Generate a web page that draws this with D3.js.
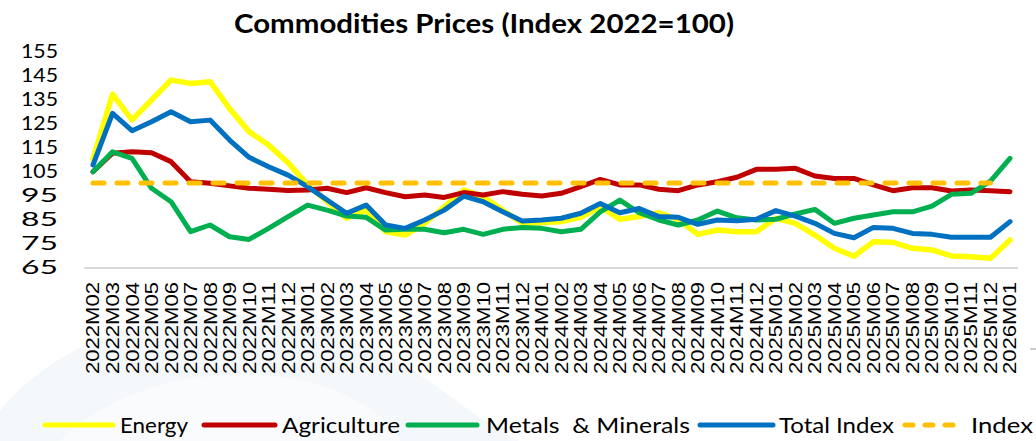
<!DOCTYPE html>
<html>
<head>
<meta charset="utf-8">
<script src="https://cdn.jsdelivr.net/npm/d3@7"></script>
<style>
  body { margin: 0; background: #fff; overflow: hidden; }
  svg { display: block; }
</style>
</head>
<body>
<script>
// months on the x axis
const months = [
  '2022M02','2022M03','2022M04','2022M05','2022M06','2022M07','2022M08','2022M09','2022M10','2022M11','2022M12',
  '2023M01','2023M02','2023M03','2023M04','2023M05','2023M06','2023M07','2023M08','2023M09','2023M10','2023M11','2023M12',
  '2024M01','2024M02','2024M03','2024M04','2024M05','2024M06','2024M07','2024M08','2024M09','2024M10','2024M11','2024M12',
  '2025M01','2025M02','2025M03','2025M04','2025M05','2025M06','2025M07','2025M08','2025M09','2025M10','2025M11','2025M12',
  '2026M01'
]

const energy = [110, 137, 126.3, 134.6, 142.9, 141.5, 142.2, 131, 121.4, 115.8, 108.5,
  99.2, 92.2, 85.3, 88.7, 79.7, 78.3, 83.2, 90.1, 97.1, 94.3, 88.7, 83.2,
  83.5, 83.9, 85.7, 90.1, 84.9, 86, 87.6, 84.9, 78.6, 80.4, 79.7, 79.7,
  85.3, 83.2, 78.3, 72.8, 69.5, 75.5, 75.3, 72.8, 72.1, 69.6, 69.3, 68.6,
  76.3]

const agriculture = [104.7, 112.4, 113, 112.6, 108.9, 100.5, 99.9, 98.8, 97.8, 97.4, 96.9,
  97.1, 97.8, 96, 98, 96, 94.3, 95, 94, 96, 95, 96.4, 95.3,
  94.6, 95.7, 98.5, 101.5, 99.2, 99.2, 97.4, 96.8, 99.2, 100.5, 102.4, 105.7,
  105.7, 106.1, 102.9, 101.9, 101.9, 99.2, 96.8, 98, 98, 96.7, 97.1, 96.8,
  96.4]

const metals = [104.7, 113, 110.3, 97.8, 92.2, 79.7, 82.5, 77.6, 76.5, 81.1, 86,
  90.8, 88.7, 86.2, 85.7, 80.4, 80.7, 80.7, 79.3, 80.7, 78.6, 80.7, 81.5,
  81.1, 79.7, 80.7, 88, 92.9, 87.6, 84.6, 82.5, 84.6, 88.3, 85.5, 84.6,
  84.9, 87.1, 89, 83.2, 85.3, 86.7, 88, 88, 90.4, 95.3, 95.7, 100.8,
  110.3]

const totalIndex = [107.5, 129, 121.8, 125.5, 129.7, 125.5, 126.2, 117.9, 110.7, 106.8, 103.3,
  98.5, 92.9, 87.4, 90.8, 82.5, 81.1, 84.6, 88.7, 94.5, 92.2, 88, 84.2,
  84.6, 85.3, 87.4, 91.5, 87.6, 89.4, 86, 85.7, 82.8, 84.6, 84.3, 84.9,
  88.5, 86.2, 83.2, 79, 77.2, 81.5, 81.1, 79, 78.6, 77.4, 77.4, 77.4,
  83.9]

// base line, no value for the last month
const baseIndex = [100, 100, 100, 100, 100, 100, 100, 100, 100, 100, 100,
  100, 100, 100, 100, 100, 100, 100, 100, 100, 100, 100, 100,
  100, 100, 100, 100, 100, 100, 100, 100, 100, 100, 100, 100,
  100, 100, 100, 100, 100, 100, 100, 100, 100, 100, 100, 100,
  null]

const yTicks = [65, 75, 85, 95, 105, 115, 125, 135, 145, 155]

const series = [
  {name: 'Energy', values: energy, color: '#FFFF00', width: 5.5},
  {name: 'Agriculture', values: agriculture, color: '#C00000', width: 5},
  {name: 'Metals  & Minerals', values: metals, color: '#00B050', width: 5},
  {name: 'Total Index', values: totalIndex, color: '#0070C0', width: 5},
  {name: 'Index', values: baseIndex, color: '#FFC000', width: 5, dash: '11,13'}
]

const W = 1036, H = 441
const svg = d3.select('body').append('svg')
  .attr('width', W).attr('height', H)

// faint watermark swoosh in the background
const wm = svg.append('g').attr('opacity', 0.55)
wm.append('path')
  .attr('d', 'M-20,441 C40,330 200,290 330,330 C420,360 470,420 520,441 Z')
  .attr('fill', '#eef3f9')
wm.append('path')
  .attr('d', 'M60,441 C120,380 230,360 320,385 C360,398 390,420 400,441 Z')
  .attr('fill', '#f7f9fc')

const x = d3.scalePoint().domain(months).range([93, 1010])
const y = d3.scaleLinear().domain([65, 155]).range([267, 51])

// title
svg.append('text')
  .attr('x', 484).attr('y', 33)
  .attr('text-anchor', 'middle')
  .attr('textLength', 500).attr('lengthAdjust', 'spacingAndGlyphs')
  .style('font', 'bold 27px Lato, "Open Sans", sans-serif')
  .text('Commodities Prices (Index 2022=100)')

// bottom axis line
svg.append('line')
  .attr('x1', 84).attr('x2', 1018)
  .attr('y1', y(65) + 1).attr('y2', y(65) + 1)
  .style('stroke', '#d9d9d9').style('stroke-width', 2)

// y labels
svg.append('g').selectAll('text')
  .data(yTicks).join('text')
  .attr('x', 58).attr('y', d => y(d))
  .attr('dy', '0.36em')
  .attr('text-anchor', 'end')
  .attr('textLength', 37).attr('lengthAdjust', 'spacingAndGlyphs')
  .style('font', '19.5px Lato, sans-serif')
  .text(d => d)

// x labels, rotated
svg.append('g').selectAll('text')
  .data(months).join('text')
  .attr('transform', d => `translate(${x(d)},282) rotate(-90)`)
  .attr('dy', '0.36em')
  .attr('text-anchor', 'end')
  .attr('textLength', 92).attr('lengthAdjust', 'spacingAndGlyphs')
  .style('font', '18px "Liberation Sans", Arial, sans-serif')
  .text(d => d)

// lines
const line = d3.line()
  .defined(d => d.v != null)
  .x(d => x(d.m))
  .y(d => y(d.v))

series.forEach(s => {
  const pts = months.map((m, i) => ({m: m, v: s.values[i]}))
  svg.append('path')
    .attr('d', line(pts))
    .style('fill', 'none')
    .style('stroke', s.color)
    .style('stroke-width', s.width)
    .style('stroke-linejoin', 'round')
    .style('stroke-linecap', 'round')
    .style('stroke-dasharray', s.dash || null)
})

// small stray tick on the right
svg.append('line')
  .attr('x1', 1030).attr('x2', 1036).attr('y1', 349).attr('y2', 349)
  .style('stroke', '#999').style('stroke-width', 1)

// legend
const legendX = [
  {line: [45, 113], text: 120, len: 68},
  {line: [204, 275], text: 282, len: 118},
  {line: [408, 477], text: 486, len: 204},
  {line: [700, 773], text: 779, len: 115},
  {line: [905, 962], text: 971, len: 62}
]
const lg = svg.append('g')
series.forEach((s, i) => {
  const p = legendX[i]
  lg.append('line')
    .attr('x1', p.line[0]).attr('x2', p.line[1])
    .attr('y1', 425).attr('y2', 425)
    .style('stroke', s.color).style('stroke-width', 5)
    .style('stroke-linecap', 'round')
    .style('stroke-dasharray', s.dash ? '8,12' : null)
  lg.append('text')
    .attr('x', p.text).attr('y', 425)
    .attr('dy', '0.35em')
    .attr('textLength', p.len).attr('lengthAdjust', 'spacingAndGlyphs')
    .style('font', '22px Lato, sans-serif')
    .style('white-space', 'pre')
    .text(s.name)
})
</script>
</body>
</html>
